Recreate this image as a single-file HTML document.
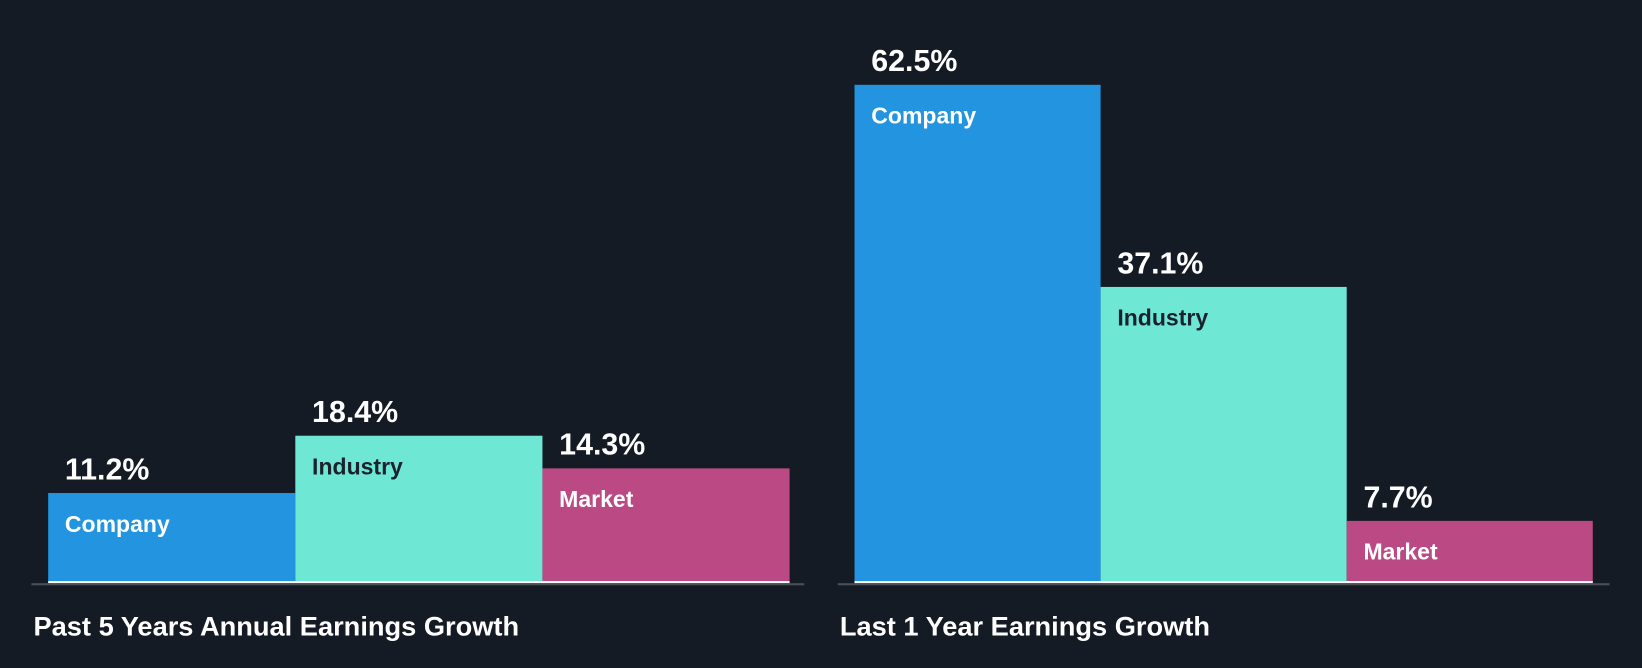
<!DOCTYPE html>
<html><head><meta charset="utf-8"><style>
html,body{margin:0;padding:0;background:#151b24;}
svg{display:block;font-family:"Liberation Sans",Arial,sans-serif;font-weight:bold;}
</style></head><body>
<svg id="chart" width="1642" height="668" viewBox="0 0 1568 638" preserveAspectRatio="none" xmlns="http://www.w3.org/2000/svg">
<rect x="0" y="0" width="1568" height="638" fill="#151b24"/>
</svg>
<script>
const categories = ["Company", "Industry", "Market"];
const pastFiveYears = [11.2, 18.4, 14.3];
const lastOneYear = [62.5, 37.1, 7.7];
const chartTitles = ["Past 5 Years Annual Earnings Growth", "Last 1 Year Earnings Growth"];

const colors = ["#2394df", "#6fe7d5", "#bb4a84"];
const labelColors = ["#ffffff", "#1b222d", "#ffffff"];
const svg = document.getElementById('chart');
const NS = "http://www.w3.org/2000/svg";
const baseY = 556;
const pxPerPct = 7.6;
function yScale(v){ return baseY - v * pxPerPct; }
function mk(tag, attrs){ const e = document.createElementNS(NS, tag); for (const k in attrs) e.setAttribute(k, attrs[k]); return e; }

function drawPanel(values, title, x0, barW, axisX1, axisX2, key){
  const g = mk('g', {});
  
  
  svg.appendChild(g);
  values.forEach((v, i) => {
    const x = x0 + i * barW;
    const top = yScale(v);
    const r = mk('rect', {x: x, y: top, width: barW, height: baseY - top, fill: colors[i]});
    
    
    g.appendChild(r);
    const vl = mk('text', {x: x + 16, y: top - 13, fill: '#ffffff', 'font-size': 29});
    
    
    vl.textContent = v.toFixed(1) + '%';
    g.appendChild(vl);
    const cl = mk('text', {x: x + 16, y: top + 37, fill: labelColors[i], 'font-size': 22});
    
    
    cl.textContent = categories[i];
    g.appendChild(cl);
  });
  const wl = mk('rect', {x: x0, y: baseY - 1, width: barW * values.length, height: 2, fill: '#ffffff'});
  
  
  g.appendChild(wl);
  const ax = mk('rect', {x: axisX1, y: baseY + 1, width: axisX2 - axisX1, height: 2, fill: '#4b4f57'});
  
  
  g.appendChild(ax);
  const t = mk('text', {x: axisX1 + 2, y: 607, fill: '#ffffff', 'font-size': 26});
  
  
  t.textContent = title;
  g.appendChild(t);
}
drawPanel(pastFiveYears, chartTitles[0], 46, 236, 30, 768, 'past-5-years');
drawPanel(lastOneYear, chartTitles[1], 816, 235, 800, 1537, 'last-1-year');
</script>
</body></html>
